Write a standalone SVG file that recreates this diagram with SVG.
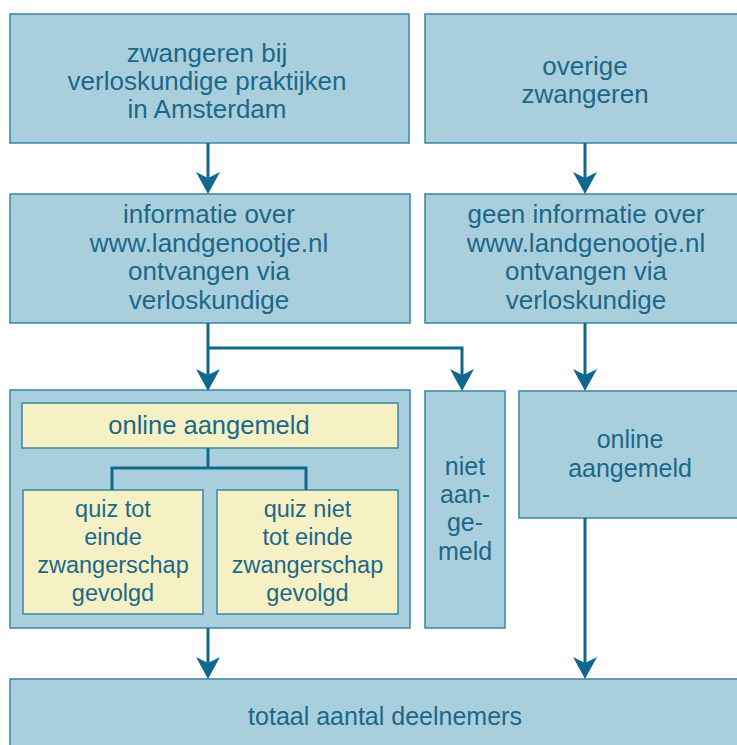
<svg xmlns="http://www.w3.org/2000/svg" width="737" height="745" viewBox="0 0 737 745">
<style>
.box{fill:#a9cfdd;stroke:#3a86a5;stroke-width:1.5}
.ybox{fill:#f6f1c4;stroke:#3a86a5;stroke-width:1.5}
.t{font-family:"Liberation Sans",Arial,sans-serif;fill:#1c6889;text-anchor:middle}
.t26{font-size:26px}
.t25{font-size:25px}
.t255{font-size:25.5px}
.t23{font-size:23.5px}
.ln{fill:none;stroke:#10698d;stroke-width:3}
</style>
<defs>
<marker id="ah" markerUnits="userSpaceOnUse" viewBox="0 0 22 24" markerWidth="22" markerHeight="24" refX="16" refY="12" orient="auto">
<path d="M0,0 L22,12 L0,24 L6,12 Z" fill="#10698d"/>
</marker>
</defs>
<rect width="737" height="745" fill="#ffffff"/>

<g id="n1">
<rect class="box" x="10" y="14" width="399" height="129"/>
<text class="t t26" x="207" y="61.5">zwangeren bij</text>
<text class="t t26" x="207" y="89.5">verloskundige praktijken</text>
<text class="t t26" x="207" y="117.5">in Amsterdam</text>
</g>
<g id="n2">
<rect class="box" x="425" y="14" width="330" height="129"/>
<text class="t t26" x="585" y="74.5">overige</text>
<text class="t t26" x="585" y="102.5">zwangeren</text>
</g>
<g id="n3">
<rect class="box" x="10" y="194" width="400" height="129"/>
<text class="t t26" x="209" y="223">informatie over</text>
<text class="t t26" x="209" y="251.5">www.landgenootje.nl</text>
<text class="t t26" x="209" y="280">ontvangen via</text>
<text class="t t26" x="209" y="308.5">verloskundige</text>
</g>
<g id="n4">
<rect class="box" x="425" y="194" width="330" height="129"/>
<text class="t t26" x="586" y="223">geen informatie over</text>
<text class="t t26" x="586" y="251.5">www.landgenootje.nl</text>
<text class="t t26" x="586" y="280">ontvangen via</text>
<text class="t t26" x="586" y="308.5">verloskundige</text>
</g>
<g id="n5">
<rect class="box" x="10" y="390" width="400" height="238"/>
</g>
<g id="n6">
<rect class="ybox" x="22" y="403" width="376" height="45"/>
<text class="t t255" x="209" y="434">online aangemeld</text>
</g>
<g id="n7">
<rect class="ybox" x="23" y="490" width="180" height="124"/>
<text class="t t23" x="113" y="517">quiz tot</text>
<text class="t t23" x="113" y="545">einde</text>
<text class="t t23" x="113" y="573">zwangerschap</text>
<text class="t t23" x="113" y="601">gevolgd</text>
</g>
<g id="n8">
<rect class="ybox" x="217" y="490" width="181" height="124"/>
<text class="t t23" x="307.5" y="517">quiz niet</text>
<text class="t t23" x="307.5" y="545">tot einde</text>
<text class="t t23" x="307.5" y="573">zwangerschap</text>
<text class="t t23" x="307.5" y="601">gevolgd</text>
</g>
<g id="n9">
<rect class="box" x="425" y="391" width="80" height="237"/>
<text class="t t25" x="465" y="475">niet</text>
<text class="t t25" x="465" y="503">aan-</text>
<text class="t t25" x="465" y="531">ge-</text>
<text class="t t25" x="465" y="560">meld</text>
</g>
<g id="n10">
<rect class="box" x="519" y="391" width="236" height="127"/>
<text class="t t25" x="630" y="448">online</text>
<text class="t t25" x="630" y="477">aangemeld</text>
</g>
<g id="n11">
<rect class="box" x="10" y="679" width="760" height="80"/>
<text class="t t25" x="385" y="725">totaal aantal deelnemers</text>
</g>

<g id="connectors">
<path class="ln" d="M208,143 V188" marker-end="url(#ah)"/>
<path class="ln" d="M585,143 V188" marker-end="url(#ah)"/>
<path class="ln" d="M208,323 V385" marker-end="url(#ah)"/>
<path class="ln" d="M208,348 H462 V385" marker-end="url(#ah)"/>
<path class="ln" d="M585,323 V385" marker-end="url(#ah)"/>
<path class="ln" d="M208,448 V468 M112,490 V468 H306 V490"/>
<path class="ln" d="M208,628 V673" marker-end="url(#ah)"/>
<path class="ln" d="M585,518 V673" marker-end="url(#ah)"/>
</g>
</svg>
